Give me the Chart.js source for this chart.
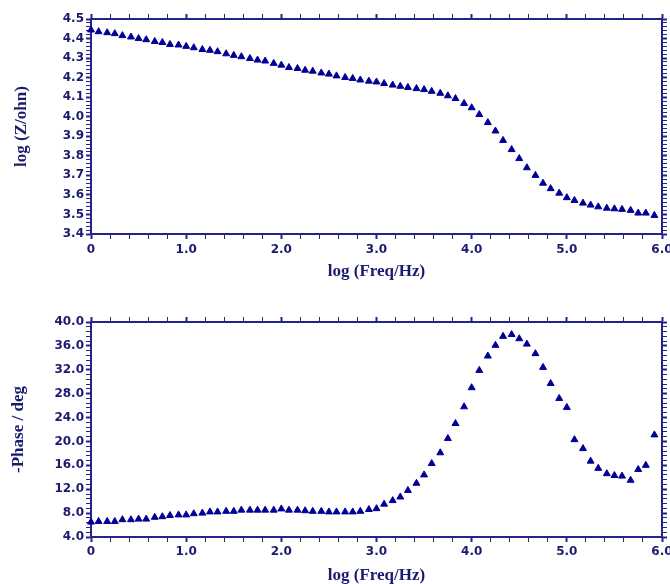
<!DOCTYPE html>
<html>
<head>
<meta charset="utf-8">
<script src="https://cdn.jsdelivr.net/npm/chart.js@4.4.0/dist/chart.umd.min.js"></script>
<style>
    html, body { margin: 0; padding: 0; background: #fff; }
    body { width: 670px; height: 584px; position: relative; overflow: hidden; }
    canvas { position: absolute; left: 0; }
    #chartZ { top: 0; }
    #chartPhase { top: 290px; }
</style>
</head>
<body>
<canvas id="chartZ" width="670" height="290"></canvas>
<canvas id="chartPhase" width="670" height="294"></canvas>
<script>
// log frequency of each measured point (12 per decade)
var logFreq = [
    0, 0.08, 0.17, 0.25, 0.33, 0.42, 0.5, 0.58, 0.67, 0.75, 0.83, 0.92,
    1.0, 1.08, 1.17, 1.25, 1.33, 1.42, 1.5, 1.58, 1.67, 1.75, 1.83, 1.92,
    2.0, 2.08, 2.17, 2.25, 2.33, 2.42, 2.5, 2.58, 2.67, 2.75, 2.83, 2.92,
    3.0, 3.08, 3.17, 3.25, 3.33, 3.42, 3.5, 3.58, 3.67, 3.75, 3.83, 3.92,
    4.0, 4.08, 4.17, 4.25, 4.33, 4.42, 4.5, 4.58, 4.67, 4.75, 4.83, 4.92,
    5.0, 5.08, 5.17, 5.25, 5.33, 5.42, 5.5, 5.58, 5.67, 5.75, 5.83, 5.92
];

var logZ = [
    4.444, 4.435, 4.430, 4.425, 4.415, 4.408, 4.400, 4.394, 4.385, 4.380, 4.370, 4.367,
    4.360, 4.353, 4.344, 4.340, 4.333, 4.322, 4.314, 4.307, 4.298, 4.290, 4.285, 4.273,
    4.264, 4.252, 4.247, 4.238, 4.233, 4.224, 4.218, 4.209, 4.201, 4.196, 4.188, 4.182,
    4.178, 4.170, 4.162, 4.156, 4.150, 4.144, 4.139, 4.130, 4.120, 4.107, 4.093, 4.068,
    4.046, 4.011, 3.970, 3.927, 3.879, 3.832, 3.786, 3.739, 3.700, 3.660, 3.632, 3.609,
    3.586, 3.572, 3.558, 3.548, 3.539, 3.532, 3.529, 3.526, 3.521, 3.507, 3.507, 3.495
];

var phase = [
    6.5, 6.6, 6.6, 6.6, 6.9, 6.9, 7.0, 7.0, 7.3, 7.4, 7.6, 7.7,
    7.7, 7.9, 8.0, 8.2, 8.2, 8.3, 8.3, 8.5, 8.5, 8.5, 8.5, 8.5,
    8.7, 8.5, 8.5, 8.4, 8.3, 8.3, 8.2, 8.2, 8.2, 8.2, 8.3, 8.6,
    8.75, 9.5, 10.1, 10.7, 11.8, 13.0, 14.4, 16.3, 18.1, 20.5, 23.0, 25.8,
    29.0, 31.9, 34.3, 36.1, 37.6, 37.9, 37.2, 36.3, 34.7, 32.4, 29.7, 27.2,
    25.7, 20.3, 18.8, 16.7, 15.5, 14.6, 14.3, 14.2, 13.5, 15.3, 16.0, 21.1
];

var freqRange = [0, 6];
var zRange = [3.4, 4.5];
var phaseRange = [4, 40];

var navy = '#1a1a6e';
var axisColor = '#23238a';
var markColor = '#000096';
var tickFont = { family: 'DejaVu Sans', weight: 'bold', size: 12 };
var titleFont = { family: 'Liberation Serif', weight: 'bold', size: 17, lineHeight: 1 };

function isMajor(v, step) {
    var r = v / step;
    return Math.abs(r - Math.round(r)) < 1e-6;
}

function points(xs, ys) {
    var out = [];
    for (var i = 0; i < xs.length; i++) {
        out.push({ x: xs[i], y: ys[i] });
    }
    return out;
}

// fix an axis' size and drop the extra room Chart.js keeps for edge labels
function fixSize(prop, size) {
    return function (s) {
        s[prop] = size;
        s.paddingLeft = 0;
        s.paddingRight = 0;
        s.paddingTop = 0;
        s.paddingBottom = 0;
    };
}

function makeChart(id, values, yRange, majorStep, minorStep, yTitle, layout) {
    var ctx = document.getElementById(id).getContext('2d');

    var grid = function (step) {
        return {
            drawOnChartArea: false,
            drawTicks: true,
            tickLength: 5,
            tickColor: axisColor,
            tickWidth: function (c) { return c.tick && isMajor(c.tick.value, step) ? 2 : 1; }
        };
    };
    var border = { display: true, color: axisColor, width: 2 };

    return new Chart(ctx, {
        type: 'scatter',
        data: {
            datasets: [{
                data: points(logFreq, values),
                showLine: false,
                pointStyle: 'triangle',
                pointRadius: 4,
                pointHoverRadius: 4,
                borderWidth: 1,
                backgroundColor: markColor,
                borderColor: markColor,
                clip: false
            }]
        },
        options: {
            responsive: false,
            animation: false,
            layout: { padding: 0, autoPadding: false },
            plugins: { legend: { display: false }, tooltip: { enabled: false } },
            scales: {
                x: {
                    type: 'linear', position: 'bottom',
                    min: freqRange[0], max: freqRange[1],
                    border: border, grid: grid(1),
                    ticks: {
                        stepSize: 0.2, autoSkip: false, maxTicksLimit: 200, maxRotation: 0,
                        padding: layout.xPad, color: navy, font: tickFont,
                        callback: function (v) {
                            if (!isMajor(v, 1)) return '';
                            return Math.round(v) === 0 ? '0' : v.toFixed(1);
                        }
                    },
                    title: {
                        display: true, text: 'log (Freq/Hz)', color: navy, font: titleFont,
                        padding: { top: 0, bottom: layout.xTitlePad }
                    },
                    afterFit: fixSize('height', layout.bottom)
                },
                x2: {
                    type: 'linear', position: 'top',
                    min: freqRange[0], max: freqRange[1],
                    border: border, grid: grid(1),
                    ticks: { stepSize: 0.2, autoSkip: false, maxTicksLimit: 200, callback: function () { return ''; } },
                    afterFit: fixSize('height', layout.top)
                },
                y: {
                    type: 'linear', position: 'left',
                    min: yRange[0], max: yRange[1],
                    border: border, grid: grid(majorStep),
                    ticks: {
                        stepSize: minorStep, autoSkip: false, maxTicksLimit: 200,
                        padding: 2, color: navy, font: tickFont,
                        callback: function (v) { return isMajor(v, majorStep) ? v.toFixed(1) : ''; }
                    },
                    title: {
                        display: true, text: yTitle, color: navy, font: titleFont,
                        padding: { top: layout.yTitlePad, bottom: 0 }
                    },
                    afterFit: fixSize('width', 91)
                },
                y2: {
                    type: 'linear', position: 'right',
                    min: yRange[0], max: yRange[1],
                    border: border, grid: grid(majorStep),
                    ticks: { stepSize: minorStep, autoSkip: false, maxTicksLimit: 200, callback: function () { return ''; } },
                    afterFit: fixSize('width', 8)
                }
            }
        }
    });
}

makeChart('chartZ', logZ, zRange, 0.1, 0.02, 'log (Z/ohn)',
    { top: 19, bottom: 56, xPad: 4, xTitlePad: 9.5, yTitlePad: 13.5 });
makeChart('chartPhase', phase, phaseRange, 4, 0.8, '-Phase / deg',
    { top: 32, bottom: 47, xPad: 3, xTitlePad: 0, yTitlePad: 10 });
</script>
</body>
</html>
